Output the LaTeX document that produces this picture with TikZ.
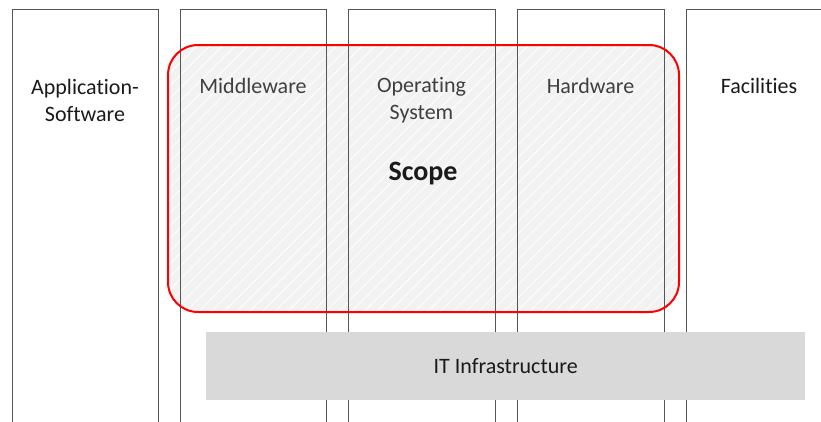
\documentclass[tikz,border=0pt]{standalone}
\usepackage{fontspec}
\setmainfont{Carlito}[Ligatures={NoCommon}]
\usetikzlibrary{patterns.meta}
\definecolor{colline}{HTML}{555555}
\definecolor{scopefill}{HTML}{F2F2F2}
\definecolor{infra}{HTML}{D9D9D9}
\definecolor{txt}{HTML}{1A1A1A}
\definecolor{dimtxt}{HTML}{404040}
\tikzset{
  column/.style={draw=colline, line width=1pt},
  label/.style={font=\fontsize{22}{27}\selectfont, align=center, text=txt, inner sep=0pt},
  dimlabel/.style={label, text=dimtxt},
  scopebox/.style={draw=red, line width=2pt, rounded corners=30pt},
}
\begin{document}
\begin{tikzpicture}[x=1pt, y=-1pt]
  \useasboundingbox (0,0) rectangle (821,421);
  \clip (0,0) rectangle (821,421);
  % shaded scope area with light diagonal hatching
  \fill[scopefill, rounded corners=30pt] (168,45) rectangle (679,312);
  \fill[pattern={Lines[angle=45, distance=9pt, line width=0.8pt]}, pattern color=white, rounded corners=30pt]
    (168,45) rectangle (679,312);
  % open-bottom columns
  \foreach \l/\r in {12/158, 180/326, 348/495, 517/664, 686/832} {
    \draw[column] (\l,430) -- (\l,9) -- (\r,9) -- (\r,430);
  }
  % IT infrastructure bar
  \node[fill=infra, minimum width=599pt, minimum height=68pt, inner sep=0pt, anchor=north west,
        font=\fontsize{22}{27}\selectfont, text=txt] (infra) at (206,332) {IT Infrastructure};
  % column titles
  \node[label] (app) at (85,100) {Application-\\Software};
  \node[dimlabel] (mw) at (253,86) {Middleware};
  \node[dimlabel] (os) at (421.5,100) {Operating\\System};
  \node[dimlabel] (hw) at (590.5,86) {Hardware};
  \node[label] (fac) at (759,86) {Facilities};
  \node[label, font=\bfseries\fontsize{28}{32}\selectfont] (scope) at (423,174) {Scope};
  % scope outline
  \draw[scopebox] (168,45) rectangle (679,312);
\end{tikzpicture}
\end{document}
